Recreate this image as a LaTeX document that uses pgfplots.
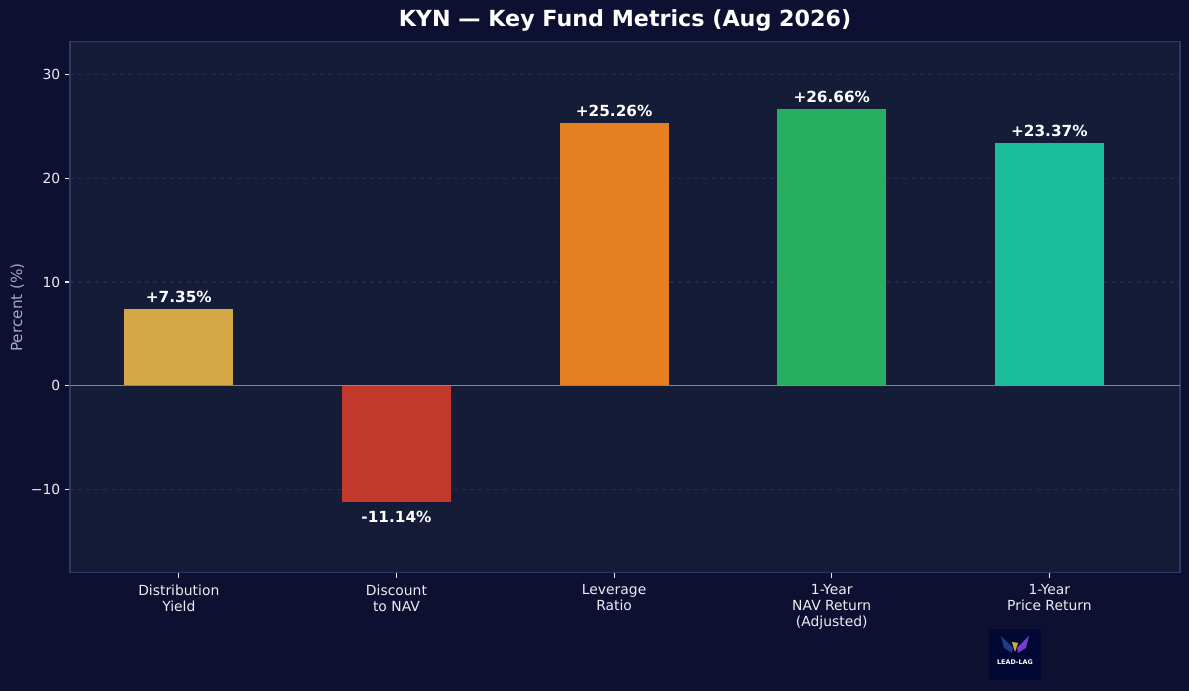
\documentclass[border=0pt]{standalone}
\usepackage{pgfplots}
\pgfplotsset{compat=1.18}
\usepackage{fontspec}
\setmainfont{DejaVu Sans}
\definecolor{figbg}{HTML}{0D1030}
\definecolor{axbg}{HTML}{151C38}
\definecolor{frame}{HTML}{2E3A66}
\definecolor{gridc}{HTML}{222B52}
\definecolor{zeroc}{HTML}{7E84A2}
\definecolor{tickc}{HTML}{ECEDF2}
\definecolor{labc}{HTML}{A4AAC0}
\definecolor{cgold}{HTML}{D4A847}
\definecolor{cred}{HTML}{C0392B}
\definecolor{corange}{HTML}{E67E22}
\definecolor{cgreen}{HTML}{27AE60}
\definecolor{cteal}{HTML}{1ABC9C}
\definecolor{logobg}{HTML}{000833}
\definecolor{wingb}{HTML}{1F3C8C}
\definecolor{wingp}{HTML}{7A3CC8}
\begin{document}
\begin{tikzpicture}
\fill[figbg] (-50.4pt,-85pt) rectangle (805.7pt,412.5pt);
\begin{axis}[
  scale only axis,
  width=799.2pt, height=382.3pt,
  xmin=-0.5, xmax=4.6,
  ymin=-18, ymax=33.1,
  axis background/.style={fill=axbg},
  axis line style={frame, line width=0.8pt},
  ytick={-10,0,10,20,30},
  yticklabels={−10,0,10,20,30},
  xtick={0,1,2,3,4},
  xticklabels={{Distribution\\Yield},{Discount\\to NAV},{Leverage\\Ratio},{1-Year\\NAV Return\\(Adjusted)},{1-Year\\Price Return}},
  xticklabel style={align=center, font=\fontsize{10}{11.5}\selectfont, text=tickc, yshift=-1.5pt},
  yticklabel style={font=\fontsize{10}{12}\selectfont, text=tickc},
  tick align=outside,
  xtick pos=bottom, ytick pos=left,
  major tick length=3.5pt,
  tick style={tickc, line width=0.8pt},
  ymajorgrids,
  major grid style={gridc, dashed, line width=0.8pt},
  ylabel={Percent (\%)},
  every axis y label/.style={at={(axis description cs:0,0.5)}, xshift=-38pt, rotate=90, anchor=center, font=\fontsize{11}{13}\selectfont, text=labc},
  title={KYN — Key Fund Metrics (Aug 2026)},
  every axis title/.style={at={(axis description cs:0.5,1)}, anchor=base, yshift=10.8pt, font=\fontsize{16}{19}\bfseries, text=white},
  ybar, bar width=0.5, bar shift=0pt,
  point meta=explicit symbolic,
  nodes near coords,
  every node near coord/.append style={font=\fontsize{11}{13}\bfseries, text=white},
  clip=false,
]
\addplot[fill=cgold, draw=none, every node near coord/.append style={anchor=south, yshift=1pt}] coordinates {(0,7.35) [+7.35\%]};
\addplot[fill=cred, draw=none, every node near coord/.append style={anchor=north, yshift=-3pt}] coordinates {(1,-11.14) [-11.14\%]};
\addplot[fill=corange, draw=none, every node near coord/.append style={anchor=south, yshift=1pt}] coordinates {(2,25.26) [+25.26\%]};
\addplot[fill=cgreen, draw=none, every node near coord/.append style={anchor=south, yshift=1pt}] coordinates {(3,26.66) [+26.66\%]};
\addplot[fill=cteal, draw=none, every node near coord/.append style={anchor=south, yshift=1pt}] coordinates {(4,23.37) [+23.37\%]};
\draw[zeroc, line width=0.9pt] (axis cs:-0.5,0) -- (axis cs:4.6,0);
\end{axis}
% logo
\node[fill=logobg, minimum width=37.4pt, minimum height=36.7pt, inner sep=0pt] (logo) at (680.4pt,-59pt) {};
\fill[wingb] (670.3pt,-45.4pt) -- (679pt,-54pt) -- (678.2pt,-57.6pt) -- (672.5pt,-54pt) -- cycle;
\fill[wingp] (690.5pt,-45.4pt) -- (681.8pt,-54pt) -- (682.6pt,-57.6pt) -- (688.3pt,-54pt) -- cycle;
\fill[cgold] (678.2pt,-49.7pt) -- (682.6pt,-50.4pt) -- (680.4pt,-56.9pt) -- cycle;
\node[text=white, font=\fontsize{4.6}{5}\bfseries, inner sep=0pt] at (680.4pt,-64.5pt) {LEAD-LAG};
\end{tikzpicture}
\end{document}
